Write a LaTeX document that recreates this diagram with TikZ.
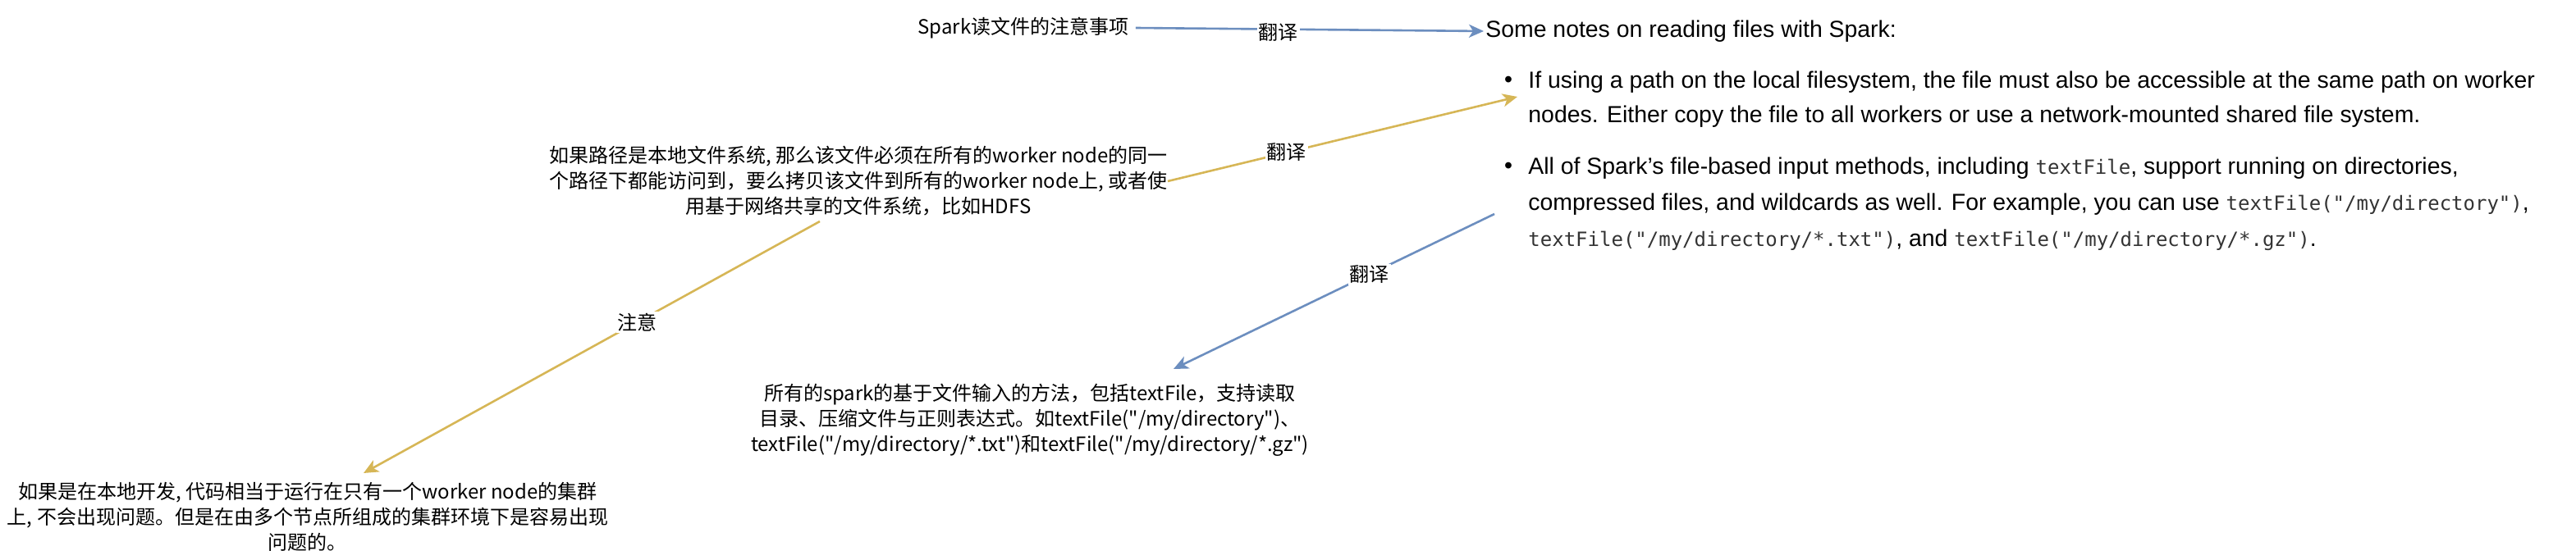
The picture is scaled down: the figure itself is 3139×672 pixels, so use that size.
\documentclass[tikz,border=0pt]{standalone}
\usepackage{fontspec}
\setmainfont{Liberation Sans}
\newfontfamily\cjkfont{Noto Sans CJK SC}
\newfontfamily\codefont{DejaVu Sans Mono}
\usetikzlibrary{arrows.meta}
\definecolor{fyblue}{HTML}{6C8EBF}
\definecolor{fyyellow}{HTML}{D6B656}
\definecolor{codegray}{HTML}{333333}
\newcommand{\code}[1]{{\codefont\fontsize{12pt}{14pt}\selectfont\color{codegray}#1}}
\tikzset{
  cjktext/.style={font=\cjkfont\fontsize{12pt}{15.5pt}\selectfont, align=center, inner sep=0pt},
  entext/.style={font=\fontsize{14.2pt}{21pt}\selectfont, align=left, anchor=west, inner sep=0pt},
  fyarrow/.style={line width=1.3pt, -{Stealth[length=9pt,width=8pt,inset=2.5pt]}},
  fylabel/.style={font=\cjkfont\fontsize{12pt}{14pt}\selectfont, text=black, fill=white, inner sep=1pt}
}
\begin{document}
\begin{tikzpicture}[x=0.5pt, y=-0.5pt]
\useasboundingbox (0,0) rectangle (3139,672);
% source notes (chinese)
\node[cjktext, inner sep=4pt] (src) at (1247,34) {Spark读文件的注意事项};
\node[cjktext] (local) at (1046,221) {如果路径是本地文件系统, 那么该文件必须在所有的worker node的同一\\个路径下都能访问到，要么拷贝该文件到所有的worker node上, 或者使\\用基于网络共享的文件系统，比如HDFS};
\node[cjktext] (cluster) at (375,630) {如果是在本地开发, 代码相当于运行在只有一个worker node的集群\\上, 不会出现问题。但是在由多个节点所组成的集群环境下是容易出现\\问题的。};
\node[cjktext] (methods) at (1255,512) {所有的spark的基于文件输入的方法，包括textFile，支持读取\\目录、压缩文件与正则表达式。如textFile("/my/directory")、\\textFile("/my/directory/*.txt")和textFile("/my/directory/*.gz")};
% english notes
\node[entext, inner sep=1pt] (notes) at (1808,38) {Some notes on reading files with Spark:};
\node[entext, anchor=center] (bul1) at (1838,100) {•};
\node[entext] (path) at (1862,121) {If using a path on the local filesystem, the file must also be accessible at the same path on worker\\nodes. Either copy the file to all workers or use a network-mounted shared file system.};
\node[entext, anchor=center] (bul2) at (1838,205) {•};
\node[entext, font=\fontsize{14.2pt}{22pt}\selectfont] (input) at (1862,249) {All of Spark’s file-based input methods, including \code{textFile}, support running on directories,\\compressed files, and wildcards as well. For example, you can use \code{textFile("/my/directory")},\\\code{textFile("/my/directory/*.txt")}, and \code{textFile("/my/directory/*.gz")}.};
% free ends
\coordinate (pathto) at (1849,118);
\coordinate (inputfrom) at (1821,261);
\coordinate (methodsto) at (1430,450);
\coordinate (localfrom) at (999,270);
\coordinate (clusterto) at (443,577);
% connectors
\draw[fyarrow, fyblue] (src.east) -- (notes.west) node[fylabel, pos=0.41, yshift=-2pt] {翻译};
\draw[fyarrow, fyyellow] (local.east) -- (pathto) node[fylabel, pos=0.34] {翻译};
\draw[fyarrow, fyblue] (inputfrom) -- (methodsto) node[fylabel, pos=0.39] {翻译};
\draw[fyarrow, fyyellow] (localfrom) -- (clusterto) node[fylabel, pos=0.4] {注意};
\end{tikzpicture}
\end{document}
